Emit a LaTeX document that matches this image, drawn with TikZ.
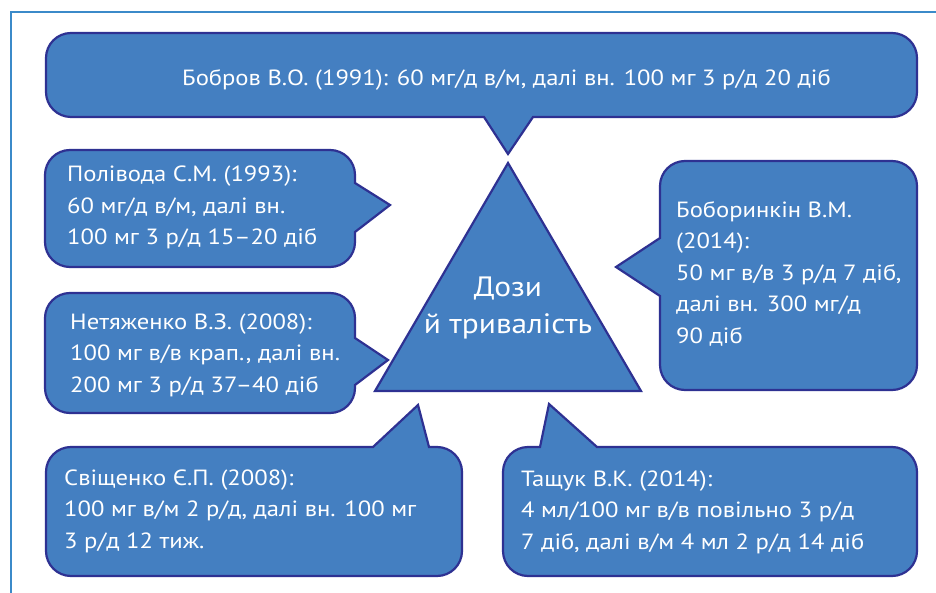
\documentclass[tikz,border=0pt]{standalone}
\usepackage{fontspec}
\setmainfont{PT Sans}[FakeStretch=1.12]
\definecolor{boxfill}{HTML}{447FC1}
\definecolor{boxline}{HTML}{2E3192}
\definecolor{framecol}{HTML}{3B8AC9}
% rounded box with optional pointer pieces: #1 x1, #2 y1, #3 x2, #4 y2, #5 top, #6 right, #7 bottom, #8 left
\newcommand\mycallbox[8]{%
  \pgfmathsetmacro\cbXa{#1+25}\pgfmathsetmacro\cbXb{#1+11.2}%
  \pgfmathsetmacro\cbXc{#3-25}\pgfmathsetmacro\cbXd{#3-11.2}%
  \pgfmathsetmacro\cbYa{#2+25}\pgfmathsetmacro\cbYb{#2+11.2}%
  \pgfmathsetmacro\cbYc{#4-25}\pgfmathsetmacro\cbYd{#4-11.2}%
  \draw[callout] (#1,\cbYa) .. controls (#1,\cbYb) and (\cbXb,#2) .. (\cbXa,#2) #5
    -- (\cbXc,#2) .. controls (\cbXd,#2) and (#3,\cbYb) .. (#3,\cbYa) #6
    -- (#3,\cbYc) .. controls (#3,\cbYd) and (\cbXd,#4) .. (\cbXc,#4) #7
    -- (\cbXa,#4) .. controls (\cbXb,#4) and (#1,\cbYd) .. (#1,\cbYc) #8
    -- cycle;}
\begin{document}
\begin{tikzpicture}[x=1pt,y=-1pt,
  callout/.style={fill=boxfill,draw=boxline,line width=2.2pt,line join=miter},
  txt/.style={text=white,inner sep=0pt,align=left,anchor=base west,font=\fontsize{22}{31.5}\selectfont},
  bigtxt/.style={text=white,inner sep=0pt,align=center,anchor=base,font=\fontsize{28}{36}\selectfont}]
\useasboundingbox (0,0) rectangle (936,593);
\fill[white] (0,0) rectangle (936,593);
\draw[framecol,line width=1.2pt] (11,593) -- (11,12) -- (936,12);
% top callout (Bobrov)
\mycallbox{46}{33}{917}{117}{}{}{-- (533,117) -- (508,154) -- (484,117)}{}
% Polivoda
\mycallbox{45}{150}{355}{267}{}{-- (355,183) -- (390,205) -- (355,232)}{}{}
% Netyazhenko
\mycallbox{45}{293}{355}{413}{}{-- (355,338) -- (388,360) -- (355,385)}{}{}
% Svishchenko
\mycallbox{46}{447}{462}{576}{-- (373,447) -- (418,405) -- (429,447)}{}{}{}
% Tashchuk
\mycallbox{503}{447}{917}{576}{-- (540,447) -- (549,404) -- (597,447)}{}{}{}
% Boborinkin
\mycallbox{660}{161}{917}{390}{}{}{}{-- (660,296) -- (616,267) -- (660,238)}
% triangle
\draw[callout] (508,163) -- (641,391) -- (375,391) -- cycle;
% texts
\node[txt] (tbobrov) at (182,86) {Бобров В.О. (1991): 60 мг/д в/м, далі вн. 100 мг 3 р/д 20 діб};
\node[txt] (tpol) at (67,245) {Полівода С.М. (1993):\\60 мг/д в/м, далі вн.\\100 мг 3 р/д 15–20 діб};
\node[txt] (tnet) at (70,392) {Нетяженко В.З. (2008):\\100 мг в/в крап., далі вн.\\200 мг 3 р/д 37–40 діб};
\node[txt] (tsvi) at (64,548) {Свіщенко Є.П. (2008):\\100 мг в/м 2 р/д, далі вн. 100 мг\\3 р/д 12 тиж.};
\node[txt] (ttas) at (521,549) {Тащук В.К. (2014):\\4 мл/100 мг в/в повільно 3 р/д\\7 діб, далі в/м 4 мл 2 р/д 14 діб};
\node[txt] (tbob) at (676,343) {Боборинкін В.М.\\(2014):\\50 мг в/в 3 р/д 7 діб,\\далі вн. 300 мг/д\\90 діб};
\node[bigtxt] (tcenter) at (508,333) {Дози\\й тривалість};
\end{tikzpicture}
\end{document}
